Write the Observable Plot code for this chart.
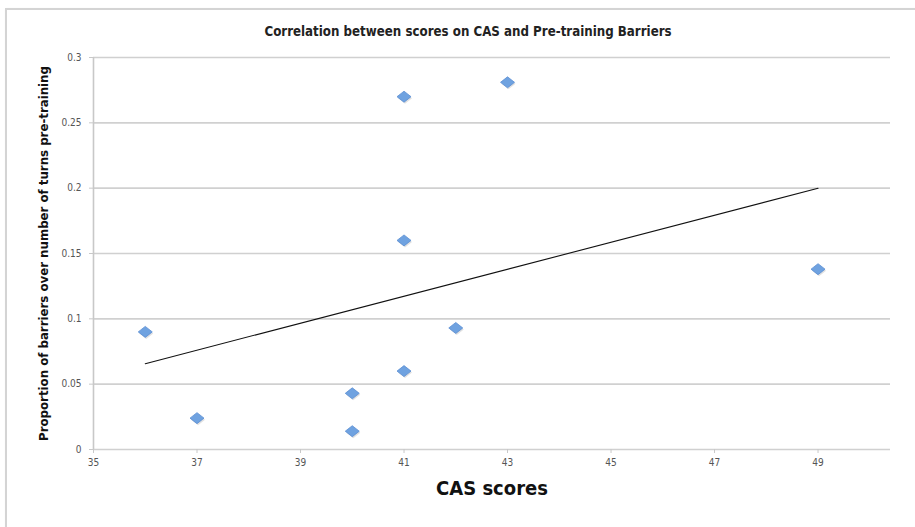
<!DOCTYPE html>
<html><head><meta charset="utf-8">
<script src="https://cdn.jsdelivr.net/npm/d3@7"></script>
<script src="https://cdn.jsdelivr.net/npm/@observablehq/plot@0.6"></script>
<style>
body{margin:0;background:#fff;overflow:hidden}
#frame{position:absolute;left:5px;top:8px;width:1000px;height:700px;border:2px solid #d4d4d4;box-shadow:1px 1px 2px rgba(0,0,0,0.12)}
#chart{position:absolute;left:0;top:0}
</style></head><body><div id="frame"></div><div id="chart"></div>
<script>
const casScores = [36, 37, 40, 40, 41, 41, 41, 42, 43, 49];
const barrierProportion = [0.09, 0.024, 0.043, 0.014, 0.06, 0.16, 0.27, 0.093, 0.281, 0.138];
const xTicks = [35, 37, 39, 41, 43, 45, 47, 49];
const yTicks = [0, 0.05, 0.1, 0.15, 0.2, 0.25, 0.3];
const titleText = "Correlation between scores on CAS and Pre-training Barriers";
const xLabel = "CAS scores";
const yLabel = "Proportion of barriers over number of turns pre-training";

const data = casScores.map((x, i) => ({x, y: barrierProportion[i]}));
const FONT = "'Liberation Sans Narrow', 'DejaVu Sans Condensed', 'Arial Narrow', sans-serif";

const wideDiamond = {
  draw(ctx, size) {
    const w = 7, h = 5.5;
    ctx.moveTo(0, -h); ctx.lineTo(w, 0); ctx.lineTo(0, h); ctx.lineTo(-w, 0); ctx.closePath();
  }
};

const chart = Plot.plot({
  width: 915,
  height: 527,
  marginLeft: 93,
  marginRight: 25,
  marginTop: 57,
  marginBottom: 78,
  style: {fontFamily: FONT, background: "transparent", overflow: "visible"},
  x: {domain: [35, 50.4], ticks: xTicks, tickFormat: d => String(d)},
  y: {domain: [0, 0.3], ticks: yTicks, tickFormat: d => String(d)},
  marks: [
    Plot.gridY(yTicks, {stroke: "#d0d0d0", strokeOpacity: 1, strokeWidth: 1.6}),
    Plot.ruleX([35], {stroke: "#c8c8c8", strokeWidth: 1.6}),
    Plot.axisX(xTicks, {tickSize: 4, tickPadding: 5, stroke: "#c8c8c8", fill: "#555", fontSize: 10, label: null, tickFormat: d => String(d)}),
    Plot.axisY(yTicks, {tickSize: 4, tickPadding: 8, stroke: "#c8c8c8", fill: "#555", fontSize: 10, label: null, tickFormat: d => String(d)}),
    Plot.linearRegressionY(data, {x: "x", y: "y", ci: 0, stroke: "#111", strokeWidth: 1.1}),
    Plot.dot(data, {x: "x", y: "y", symbol: wideDiamond, fill: "#000", fillOpacity: 0.12, dx: 1, dy: 1.5}),
    Plot.dot(data, {x: "x", y: "y", symbol: wideDiamond, fill: "#6fa2e0", stroke: "#5a8ed3", strokeWidth: 0.8}),
    Plot.text([titleText], {frameAnchor: "top", dx: -24, dy: -26, fontSize: 13.2, fontWeight: "bold", fill: "#222", lineAnchor: "middle"}),
    Plot.text([xLabel], {frameAnchor: "bottom", dy: 39, fontSize: 20, fontWeight: "bold", fill: "#111", lineAnchor: "middle"}),
    Plot.text([yLabel], {frameAnchor: "left", dx: -50, rotate: -90, fontSize: 13.1, fontWeight: "bold", fill: "#111", lineAnchor: "middle", textAnchor: "middle"})
  ]
});
document.getElementById("chart").appendChild(chart);
</script>
</body></html>
